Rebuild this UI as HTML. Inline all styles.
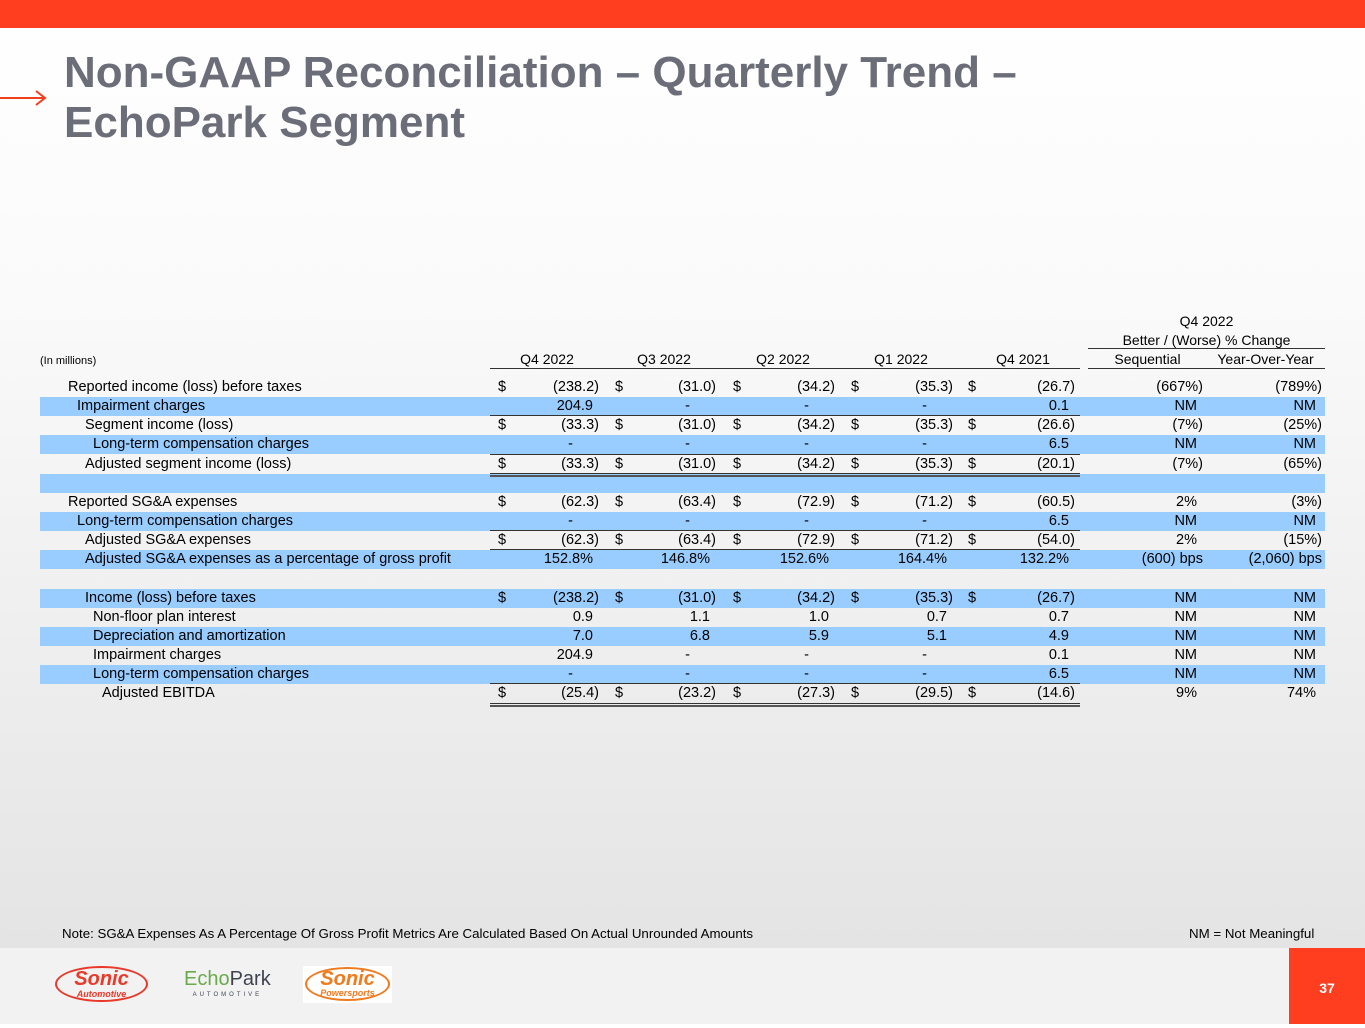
<!DOCTYPE html>
<html><head><meta charset="utf-8">
<style>
*{margin:0;padding:0;box-sizing:border-box}
body{width:1365px;height:1024px;position:relative;overflow:hidden;font-family:"Liberation Sans",Arial,sans-serif;color:#000;
background:linear-gradient(#ffffff 0px,#fafafa 300px,#e4e4e4 948px)}
.abs{position:absolute}
.t{position:absolute;font-size:14.5px;line-height:19px;white-space:nowrap}
.r{text-align:right}
.c{text-align:center}
.hl{position:absolute;left:40px;width:1285px;height:19px;background:#99ccff}
.ln{position:absolute;height:1px;background:#333}
</style></head><body>
<div class="abs" style="left:0;top:0;width:1365px;height:28px;background:#ff3d1f"></div>
<svg class="abs" style="left:0;top:88px" width="50" height="20"><line x1="0" y1="10" x2="44" y2="10" stroke="#f0401e" stroke-width="2"/><polyline points="36,3 45,10 36,17" fill="none" stroke="#f0401e" stroke-width="2"/></svg>
<div class="abs" style="left:64px;top:48px;font-size:44px;line-height:50px;font-weight:bold;color:#6b6e78">Non-GAAP Reconciliation – Quarterly Trend –<br>EchoPark Segment</div>

<div id="tbl"></div>

<div class="t" style="left:62px;top:924px;font-size:13.3px">Note: SG&amp;A Expenses As A Percentage Of Gross Profit Metrics Are Calculated Based On Actual Unrounded Amounts</div>
<div class="t" style="left:1189px;top:924px;font-size:13.3px">NM = Not Meaningful</div>
<div class="abs" style="left:0;top:948px;width:1365px;height:76px;background:#f2f2f2"></div>
<div class="abs" style="left:1289px;top:948px;width:76px;height:76px;background:#ff3d1f;color:#fff;font-weight:bold;font-size:14px;text-align:center;line-height:80px">37</div>
<div class="abs" style="left:55px;top:966px;width:93px;height:36px;border:2px solid #e8392a;border-radius:50%;text-align:center;color:#e8392a;font-weight:bold;font-style:italic;font-size:20px;line-height:22px">Sonic<div style="font-size:9px;line-height:8px">Automotive</div></div>
<div class="abs" style="left:184px;top:968px;font-size:20px;line-height:22px"><span style="color:#6aaa4a">Echo</span><span style="color:#3d4450">Park</span><div style="font-size:6px;letter-spacing:3px;color:#3d4450;text-align:center;line-height:10px">AUTOMOTIVE</div></div>
<div class="abs" style="left:303px;top:966px;width:89px;height:37px;background:#fff"><div style="margin:1px 2px;height:34px;border:2px solid #f07a1e;border-radius:50%;text-align:center;color:#f07a1e;font-weight:bold;font-style:italic;font-size:20px;line-height:20px">Sonic<div style="font-size:9px;line-height:9px">Powersports</div></div></div>

<script>
const labels=["Reported income (loss) before taxes","Impairment charges","Segment income (loss)","Long-term compensation charges","Adjusted segment income (loss)","","Reported SG&A expenses","Long-term compensation charges","Adjusted SG&A expenses","Adjusted SG&A expenses as a percentage of gross profit","","Income (loss) before taxes","Non-floor plan interest","Depreciation and amortization","Impairment charges","Long-term compensation charges","Adjusted EBITDA"];
const indents=[68,77,85,93,85,0,68,77,85,85,0,85,93,93,93,93,102];
const q4_2022=["(238.2)","204.9","(33.3)","-","(33.3)","","(62.3)","-","(62.3)","152.8%","","(238.2)","0.9","7.0","204.9","-","(25.4)"];
const q3_2022=["(31.0)","-","(31.0)","-","(31.0)","","(63.4)","-","(63.4)","146.8%","","(31.0)","1.1","6.8","-","-","(23.2)"];
const q2_2022=["(34.2)","-","(34.2)","-","(34.2)","","(72.9)","-","(72.9)","152.6%","","(34.2)","1.0","5.9","-","-","(27.3)"];
const q1_2022=["(35.3)","-","(35.3)","-","(35.3)","","(71.2)","-","(71.2)","164.4%","","(35.3)","0.7","5.1","-","-","(29.5)"];
const q4_2021=["(26.7)","0.1","(26.6)","6.5","(20.1)","","(60.5)","6.5","(54.0)","132.2%","","(26.7)","0.7","4.9","0.1","6.5","(14.6)"];
const sequential=["(667%)","NM","(7%)","NM","(7%)","","2%","NM","2%","(600) bps","","NM","NM","NM","NM","NM","9%"];
const yoy=["(789%)","NM","(25%)","NM","(65%)","","(3%)","NM","(15%)","(2,060) bps","","NM","NM","NM","NM","NM","74%"];
const dollarRows=[0,2,4,6,8,11,16];
const blueRows=[1,3,5,7,9,11,13,15];
const colHeads=["Q4 2022","Q3 2022","Q2 2022","Q1 2022","Q4 2021"];
const cols=[q4_2022,q3_2022,q2_2022,q1_2022,q4_2021];
const colRight=[599,716,835,953,1075];
const colDollar=[498,615,733,851,968];
const tbl=document.getElementById('tbl');
const top0=378,rh=19.15;
function add(cls,style,text){const d=document.createElement('div');d.className=cls;d.setAttribute('style',style);if(text!==undefined)d.textContent=text;tbl.appendChild(d);return d;}
blueRows.forEach(i=>{const d=add('hl','top:'+(top0+i*rh)+'px');

});
colHeads.forEach((h,j)=>{const d=add('t c','left:'+(colRight[j]-102)+'px;top:350px;width:100px;font-size:14px',h);

});
let h1=add('t','left:40px;top:352px;font-size:11px','(In millions)');


[["Q4 2022",1088,312],["Better / (Worse) % Change",1088,331],["Sequential",1088,350],["Year-Over-Year",1206,350]].forEach((a,k)=>{const w=k<2?237:119;const d=add('t c','left:'+a[1]+'px;top:'+a[2]+'px;width:'+w+'px;font-size:14px',a[0]);

});
add('ln','left:490px;top:368px;width:590px');
add('ln','left:1088px;top:368px;width:237px');
add('ln','left:1088px;top:348px;width:237px');
function valStyle(v){if(v==='-')return 'padding-right:26px';if(/\)$/.test(v))return '';return 'padding-right:6px';}
labels.forEach((l,i)=>{const y=top0+i*rh;
if(l){const d=add('t','left:'+indents[i]+'px;top:'+y+'px',l);

}
cols.forEach((c,j)=>{if(!c[i])return;
const d=add('t r','left:'+(colRight[j]-100)+'px;width:100px;top:'+y+'px;'+valStyle(c[i]),c[i]);


if(dollarRows.includes(i)){const s=add('t','left:'+colDollar[j]+'px;top:'+y+'px','$');

}});
[[sequential,1203],[yoy,1322]].forEach(([arr,r])=>{if(!arr[i])return;
const d=add('t r','left:'+(r-110)+'px;width:110px;top:'+y+'px;'+(/[)]$/.test(arr[i])||/bps/.test(arr[i])?'':'padding-right:6px'),arr[i]);

});
});
[1,3,7,8,15].forEach(i=>add('ln','left:490px;width:590px;top:'+Math.round(top0+(i+1)*rh-1)+'px'));
[4,16].forEach(i=>{const y=Math.round(top0+(i+1)*rh-1);add('ln','left:490px;width:590px;top:'+y+'px');add('ln','left:490px;width:590px;height:2px;top:'+(y+2)+'px;background:#555');});
</script>
</body></html>
